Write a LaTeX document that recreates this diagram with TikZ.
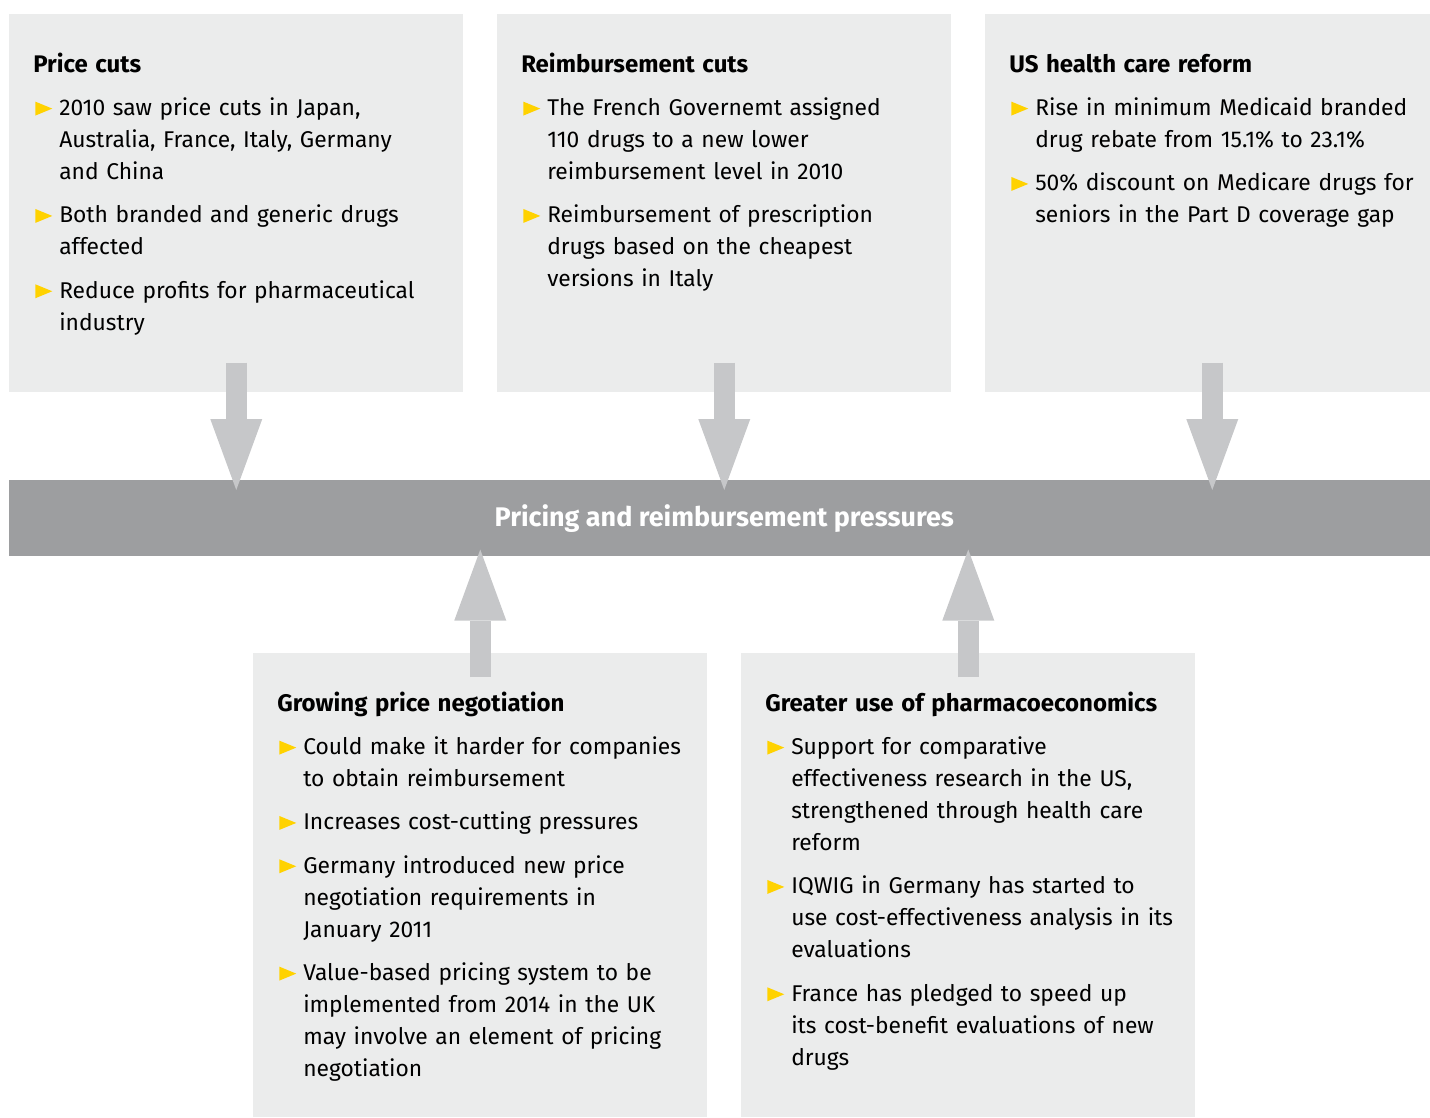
\documentclass[tikz,border=0pt]{standalone}
\usepackage{fontspec}
\setmainfont{Fira Sans}
\usetikzlibrary{arrows.meta,positioning}

\definecolor{panelgrey}{HTML}{EBECEC}
\definecolor{bargrey}{HTML}{9D9EA0}
\definecolor{arrowgrey}{HTML}{C6C7C9}
\definecolor{eyyellow}{HTML}{FFD200}

% yellow bullet and one bulleted item
\newcommand\tri{\tikz[baseline=0pt]\fill[eyyellow] (0,0) -- (0,10.5pt) -- (12.75pt,5.25pt) -- cycle;}
\newcommand\bul[1]{\par\vspace{8.5pt}\noindent\hangindent=19.5pt\hangafter=1\makebox[19.5pt][l]{\hspace{1.5pt}\tri}#1\par}
\newcommand\headline[1]{\rule{0pt}{18pt}{\fontsize{18}{24}\selectfont\bfseries #1}}

\tikzset{
  panel/.style={fill=panelgrey, anchor=north west, inner sep=0pt, minimum width=340.5pt},
  txt/.style={anchor=north west, inner sep=0pt, text width=335pt, align=left,
    font=\fontsize{17.1}{24}\selectfont},
  bigarrow/.style={draw=arrowgrey, line width=15.75pt,
    -{Triangle[width=39pt,length=53.25pt,line width=0pt]}}
}

\begin{document}
\begin{tikzpicture}[x=0.75pt,y=-0.75pt]
\useasboundingbox (0,0) rectangle (1430,1117);
\clip (0,0) rectangle (1430,1117);

% top row
\node[panel, minimum height=283.5pt] (pc) at (9,14) {};
\node[panel, minimum height=283.5pt] (rc) at (497,14) {};
\node[panel, minimum height=283.5pt] (us) at (985,14) {};

% bottom row
\node[panel, minimum height=348pt] (gn) at (253,653) {};
\node[panel, minimum height=348pt] (ph) at (741,653) {};

% centre bar
\node[fill=bargrey, anchor=north west, inner sep=0pt, minimum width=1072.5pt, minimum height=57pt,
  text=white, font=\fontsize{20.2}{24}\selectfont\bfseries] (bar) at (9,480) {Pricing and reimbursement pressures};

\node[txt] (pctext) at ([xshift=18pt,yshift=-25.5pt]pc.north west) {\headline{Price cuts}
\bul{2010 saw price cuts in Japan,\newline Australia, France, Italy, Germany\newline and China}
\bul{Both branded and generic drugs\newline affected}
\bul{Reduce profits for pharmaceutical\newline industry}};

\node[txt] (rctext) at ([xshift=18pt,yshift=-25.5pt]rc.north west) {\headline{Reimbursement cuts}
\bul{The French Governemt assigned\newline 110 drugs to a new lower\newline reimbursement level in 2010}
\bul{Reimbursement of prescription\newline drugs based on the cheapest\newline versions in Italy}};

\node[txt] (ustext) at ([xshift=18pt,yshift=-25.5pt]us.north west) {\headline{US health care reform}
\bul{Rise in minimum Medicaid branded\newline drug rebate from 15.1\% to 23.1\%}
\bul{50\% discount on Medicare drugs for\newline seniors in the Part D coverage gap}};

\node[txt] (gntext) at ([xshift=18pt,yshift=-25.5pt]gn.north west) {\headline{Growing price negotiation}
\bul{Could make it harder for companies\newline to obtain reimbursement}
\bul{Increases cost-cutting pressures}
\bul{Germany introduced new price\newline negotiation requirements in\newline January 2011}
\bul{Value-based pricing system to be\newline implemented from 2014 in the UK\newline may involve an element of pricing\newline negotiation}};

\node[txt] (phtext) at ([xshift=18pt,yshift=-25.5pt]ph.north west) {\headline{Greater use of pharmacoeconomics}
\bul{Support for comparative\newline effectiveness research in the US,\newline strengthened through health care\newline reform}
\bul{IQWIG in Germany has started to\newline use cost-effectiveness analysis in its\newline evaluations}
\bul{France has pledged to speed up\newline its cost-benefit evaluations of new\newline drugs}};

% arrows into the bar
\draw[bigarrow] ([yshift=22.5pt]pc.south) -- ([yshift=-7.5pt]pc.south |- bar.north);
\draw[bigarrow] ([yshift=22.5pt]rc.south) -- ([yshift=-7.5pt]rc.south |- bar.north);
\draw[bigarrow] ([yshift=22.5pt]us.south) -- ([yshift=-7.5pt]us.south |- bar.north);
\draw[bigarrow] ([yshift=-18pt]gn.north) -- ([yshift=5.25pt]gn.north |- bar.south);
\draw[bigarrow] ([yshift=-18pt]ph.north) -- ([yshift=5.25pt]ph.north |- bar.south);
\end{tikzpicture}
\end{document}
